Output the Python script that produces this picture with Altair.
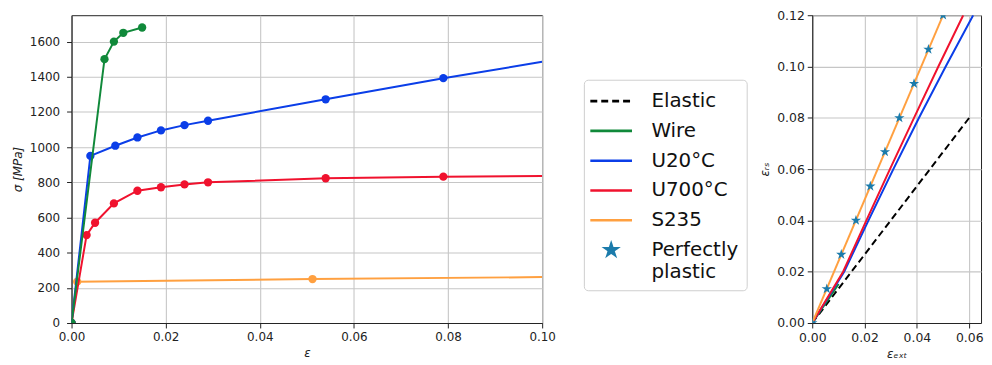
import altair as alt
import pandas as pd

# ---------------- Left panel: stress-strain curves ----------------
WIRE_EPS = [0.0, 0.007, 0.009, 0.011, 0.015]
WIRE_SIG = [0, 1500, 1600, 1650, 1680]

U20_EPS = [0.0, 0.004, 0.0093, 0.014, 0.019, 0.024, 0.029, 0.054, 0.079]
U20_SIG = [0, 950, 1008, 1055, 1095, 1125, 1150, 1272, 1392]
U20_END_EPS = [0.10]
U20_END_SIG = [1485]

U700_EPS = [0.0, 0.0032, 0.005, 0.009, 0.014, 0.019, 0.024, 0.029, 0.054, 0.079]
U700_SIG = [0, 500, 570, 680, 752, 772, 788, 800, 823, 832]
U700_END_EPS = [0.10]
U700_END_SIG = [836]

S235_EPS = [0.0, 0.0012, 0.0512]
S235_SIG = [0, 235, 250]
S235_END_EPS = [0.10]
S235_END_SIG = [261]

# ---------------- Right panel: strain relations ----------------
R_ELASTIC_X = [0.0, 0.06]
R_ELASTIC_Y = [0.0, 0.08]
R_WIRE_X = [0.0, 0.0101]
R_WIRE_Y = [0.0, 0.0152]
R_U20_X = [0.0, 0.0122, 0.0215, 0.0310, 0.0408, 0.0510, 0.0615]
R_U20_Y = [0.0, 0.02, 0.04, 0.06, 0.08, 0.10, 0.12]
R_U700_X = [0.0, 0.0118, 0.0207, 0.0297, 0.0389, 0.0482, 0.0577]
R_U700_Y = [0.0, 0.02, 0.04, 0.06, 0.08, 0.10, 0.12]
R_S235_X = [0.0, 0.05]
R_S235_Y = [0.0, 0.12]
R_PLASTIC_X = [0.0, 0.00556, 0.0111, 0.0167, 0.0222, 0.0278, 0.0333, 0.0389, 0.0444, 0.05]
R_PLASTIC_Y = [0.0, 0.0133, 0.0267, 0.04, 0.0533, 0.0667, 0.08, 0.0933, 0.1067, 0.12]

LEGEND_NAMES = ["Elastic", "Wire", "U20°C", "U700°C", "S235", "Perfectly plastic"]

# ---------------- styles ----------------
C_ELASTIC = "#000000"
C_WIRE = "#10893a"
C_U20 = "#0b3ee8"
C_U700 = "#f0122e"
C_S235 = "#ffa040"
C_STAR = "#1b7bab"

STAR = ("M0,-1L0.225,-0.309L0.951,-0.309L0.363,0.118L0.588,0.809L0,0.382"
        "L-0.588,0.809L-0.363,0.118L-0.951,-0.309L-0.225,-0.309Z")
STAR_SMALL = ("M0,-0.5L0.112,-0.155L0.476,-0.155L0.182,0.059L0.294,0.405L0,0.191"
              "L-0.294,0.405L-0.182,0.059L-0.476,-0.155L-0.112,-0.155Z")
LINE_SYM = "M-1.75,0L1.75,0"

LW = 2
H = 310

# ---------------- left chart ----------------
lx = alt.X("e:Q", scale=alt.Scale(domain=[0, 0.1], nice=False),
           axis=alt.Axis(values=[0, 0.02, 0.04, 0.06, 0.08, 0.1], format=".2f",
                         title="ε", labelPadding=4, titlePadding=5))
ly = alt.Y("s:Q", scale=alt.Scale(domain=[0, 1750], nice=False),
           axis=alt.Axis(values=list(range(0, 1601, 200)), format="d",
                         title="σ [MPa]", labelPadding=7, titlePadding=5))


def left_series(eps, sig, end_eps, end_sig, color):
    pts = pd.DataFrame({"e": eps, "s": sig})
    line_df = pd.DataFrame({"e": eps + end_eps, "s": sig + end_sig})
    line = alt.Chart(line_df).mark_line(color=color, strokeWidth=LW, clip=True).encode(
        x=lx, y=ly, order="e:Q")
    dots = alt.Chart(pts).mark_circle(color=color, size=70, opacity=1, clip=True).encode(x=lx, y=ly)
    return [line, dots]


left_layers = []
left_layers += left_series(S235_EPS, S235_SIG, S235_END_EPS, S235_END_SIG, C_S235)
left_layers += left_series(U700_EPS, U700_SIG, U700_END_EPS, U700_END_SIG, C_U700)
left_layers += left_series(U20_EPS, U20_SIG, U20_END_EPS, U20_END_SIG, C_U20)
left_layers += left_series(WIRE_EPS, WIRE_SIG, [], [], C_WIRE)

left = alt.layer(*left_layers).properties(width=474, height=H)

# ---------------- right chart ----------------
rx = alt.X("x:Q", scale=alt.Scale(domain=[0, 0.0645], nice=False),
           axis=alt.Axis(values=[0, 0.02, 0.04, 0.06], format=".2f", labelFontSize=12.5,
                         title="εₑₓₜ", labelPadding=4, titlePadding=4))
ry = alt.Y("y:Q", scale=alt.Scale(domain=[0, 0.12], nice=False),
           axis=alt.Axis(values=[0, 0.02, 0.04, 0.06, 0.08, 0.10, 0.12], format=".2f",
                         labelFontSize=12.5, title="εᵣₛ", labelPadding=3, titlePadding=5))


def right_line(xs, ys, color, dash=None):
    df = pd.DataFrame({"x": xs, "y": ys})
    kw = dict(color=color, strokeWidth=LW, clip=True)
    if dash:
        kw["strokeDash"] = dash
    return alt.Chart(df).mark_line(**kw).encode(x=rx, y=ry, order="x:Q")


right_layers = [
    right_line(R_ELASTIC_X, R_ELASTIC_Y, C_ELASTIC, [7, 4]),
    right_line(R_WIRE_X, R_WIRE_Y, C_WIRE),
    right_line(R_U20_X, R_U20_Y, C_U20),
    right_line(R_U700_X, R_U700_Y, C_U700),
    right_line(R_S235_X, R_S235_Y, C_S235),
    alt.Chart(pd.DataFrame({"x": R_PLASTIC_X, "y": R_PLASTIC_Y})).mark_point(
        shape=STAR, filled=True, color=C_STAR, size=120, opacity=1, clip=True
    ).encode(x=rx, y=ry),
]

# legend is lifted to the concat level: coordinates relative to the left view
legend_def = alt.Legend(
    title=None, orient="none", legendX=516, legendY=65,
    labelFont="DejaVu Sans", labelFontSize=20, labelColor="#111",
    symbolSize=576, symbolStrokeWidth=2.6, symbolOpacity=1,
    symbolOffset=6, labelOffset=27, rowPadding=6, padding=8,
    strokeColor="#cfcfcf", fillColor="white", cornerRadius=4,
    labelLimit=300,
    labelExpr="datum.label == 'Perfectly plastic' ? ['Perfectly', '\u00a0plastic'] : datum.label",
)

leg_df = pd.DataFrame({"series": LEGEND_NAMES})
legend_layer = alt.Chart(leg_df).mark_point(opacity=0, fill=C_STAR).encode(
    x=alt.value(0), y=alt.value(0),
    color=alt.Color("series:N", sort=LEGEND_NAMES,
                    scale=alt.Scale(domain=LEGEND_NAMES,
                                    range=[C_ELASTIC, C_WIRE, C_U20, C_U700, C_S235, C_STAR]),
                    legend=legend_def),
    shape=alt.Shape("series:N", sort=LEGEND_NAMES,
                    scale=alt.Scale(domain=LEGEND_NAMES,
                                    range=[LINE_SYM] * 5 + [STAR_SMALL]),
                    legend=legend_def),
    strokeDash=alt.StrokeDash("series:N", sort=LEGEND_NAMES,
                              scale=alt.Scale(domain=LEGEND_NAMES,
                                              range=[[7, 4], [1, 0], [1, 0], [1, 0], [1, 0], [1, 0]]),
                              legend=legend_def),
)
right_layers.append(legend_layer)

right = alt.layer(*right_layers).properties(width=170, height=H)

chart = alt.hconcat(left, right, spacing=272, bounds="flush").properties(
    padding={"left": 2, "top": -1, "right": 0, "bottom": 0}
).configure_axis(
    grid=True, gridColor="#c6c6c6", gridWidth=1.1,
    domainColor="#222", tickColor="#222", tickSize=5, tickWidth=1,
    labelFlush=False,
    labelFont="DejaVu Sans", labelFontSize=12, labelColor="#222",
    titleFont="DejaVu Sans", titleFontSize=12, titleFontWeight="normal",
    titleFontStyle="italic", titleColor="#222",
).configure_view(stroke="#222", strokeWidth=1)

chart.save("out.html", embed_options={"renderer": "svg", "actions": False})
